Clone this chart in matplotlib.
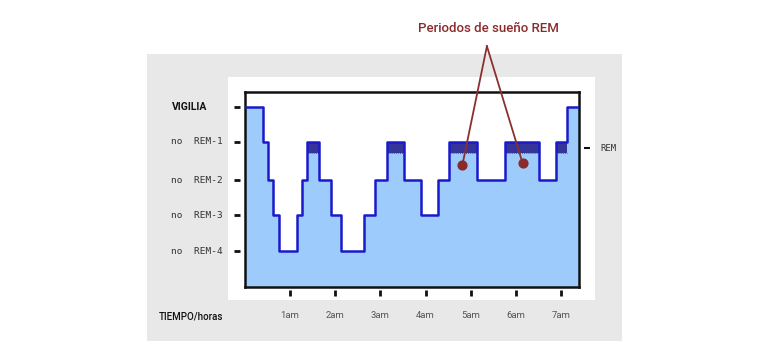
import numpy as np
import matplotlib
matplotlib.use("Agg")
import matplotlib.pyplot as plt
from matplotlib.patches import Rectangle
import matplotlib.transforms as mtransforms

# hypnogram: step start times (hours after midnight) and stage index
# stage index: 4=VIGILIA, 3=no REM-1, 2=no REM-2, 1=no REM-3, 0=no REM-4
step_times = [0.0, 0.39, 0.51, 0.63, 0.76, 1.15, 1.27, 1.38, 1.64, 1.90, 2.13,
              2.64, 2.87, 3.14, 3.52, 3.89, 4.27, 4.52, 5.14, 5.77, 6.52,
              6.89, 7.14]
step_stages = [4, 3, 2, 1, 0, 1, 2, 3, 2, 1, 0,
               1, 2, 3, 2, 1, 2, 3, 2, 3, 2,
               3, 4]
end_time = 7.40

# vertical position of each stage row as drawn in the original
stage_pos = [0.0, 1.0, 1.97, 3.03, 4.0]
stage_labels = ["no  REM-4", "no  REM-3", "no  REM-2", "no  REM-1", "VIGILIA"]

# REM periods (start, end) in hours
rem_start = [1.38, 3.14, 4.52, 5.77, 6.89]
rem_end = [1.64, 3.52, 5.14, 6.52, 7.14]

hour_ticks = [1, 2, 3, 4, 5, 6, 7]
hour_labels = ["1am", "2am", "3am", "4am", "5am", "6am", "7am"]

# annotated points (REM periods)
dot_x = [4.815, 6.15]
dot_y = [2.38, 2.44]

W, H = 768, 360
fig = plt.figure(figsize=(W / 100, H / 100), dpi=100)
fig.patch.set_facecolor("white")

def fx(px):
    return px / W

def fy(py):
    return 1 - py / H

# gray panel and white plot card
fig.add_artist(Rectangle((fx(147), fy(341)), (622 - 147) / W, (341 - 54) / H,
                         transform=fig.transFigure, facecolor="#e8e8e8",
                         edgecolor="none", zorder=0))
fig.add_artist(Rectangle((fx(228), fy(300)), (595 - 228) / W, (300 - 77) / H,
                         transform=fig.transFigure, facecolor="white",
                         edgecolor="none", zorder=0))

ax = fig.add_axes([fx(245), fy(287), (579 - 245) / W, (287 - 92) / H])
ax.set_facecolor("white")

x = np.array(step_times + [end_time])
y = np.array([stage_pos[s] for s in step_stages] + [stage_pos[step_stages[-1]]])
ax.fill_between(x, -1.2, y, step="post", color="#9dcbfb", lw=0, zorder=1)

rem_top = stage_pos[3]
rem_bot = rem_top - 0.31
for s, e in zip(rem_start, rem_end):
    ax.add_patch(Rectangle((s, rem_bot), e - s, rem_top - rem_bot,
                           facecolor="#343499", edgecolor="none", zorder=2))
    ax.plot([s, e], [rem_bot, rem_bot], color="#333355", lw=0.6,
            ls=(0, (1, 1.5)), zorder=2)

ax.step(x, y, where="post", color="#1a1acc", lw=1.8, zorder=3)

ax.set_xlim(0, end_time)
ax.set_ylim(-1.0, 4.417)
for sp in ax.spines.values():
    sp.set_linewidth(1.8)
    sp.set_color("#111111")
ax.set_xticks([])
ax.set_yticks([])

# y tick dashes and labels
ytr = mtransforms.blended_transform_factory(ax.transAxes, ax.transData)
for pos, lab in zip(stage_pos, stage_labels):
    ax.plot([-0.025], [pos], marker="_", ms=5, mew=2, color="#111111",
            transform=ytr, clip_on=False)
    if lab == "VIGILIA":
        ax.text(-0.165, pos, lab, transform=ytr, ha="center", va="center",
                fontsize=7.5, fontweight="bold", family="Roboto",
                color="#111111")
    else:
        ax.text(-0.068, pos, lab, transform=ytr, ha="right", va="center",
                fontsize=6.8, family="DejaVu Sans Mono", color="#333333")

# REM marker on the right
rem_lab_y = 2.86
ax.plot([1.025], [rem_lab_y], marker="_", ms=5, mew=1.5, color="#111111",
        transform=ytr, clip_on=False)
ax.text(1.063, rem_lab_y, "REM", transform=ytr, ha="left", va="center",
        fontsize=6.5, family="DejaVu Sans Mono", color="#333333")

# x tick dashes and labels
xtr = mtransforms.blended_transform_factory(ax.transData, ax.transAxes)
for h, lab in zip(hour_ticks, hour_labels):
    ax.plot([h], [-0.031], marker="|", ms=4, mew=2, color="#111111",
            transform=xtr, clip_on=False)
    ax.text(h, -0.148, lab, transform=xtr, ha="center", va="center",
            fontsize=6.8, family="Roboto", color="#555555")
fig.text(fx(191), fy(316), "TIEMPO/horas", ha="center", va="center",
         fontsize=7, family="Roboto", fontweight="medium", color="#111111")

# annotation
apex_x = 5.36
apex_y = 5.69
for dx, dy in zip(dot_x, dot_y):
    ax.plot([apex_x, dx], [apex_y, dy], color="#8b2f2f", lw=1.3,
            clip_on=False, zorder=5)
ax.scatter(dot_x, dot_y, s=40, color="#8b2a2a", zorder=6, clip_on=False)
fig.text(fx(488), fy(28), "Periodos de sueño REM", ha="center", va="center",
         fontsize=9.5, family="Roboto", fontweight="medium", color="#8b2a2a")

fig.savefig("out.png", dpi=100)
